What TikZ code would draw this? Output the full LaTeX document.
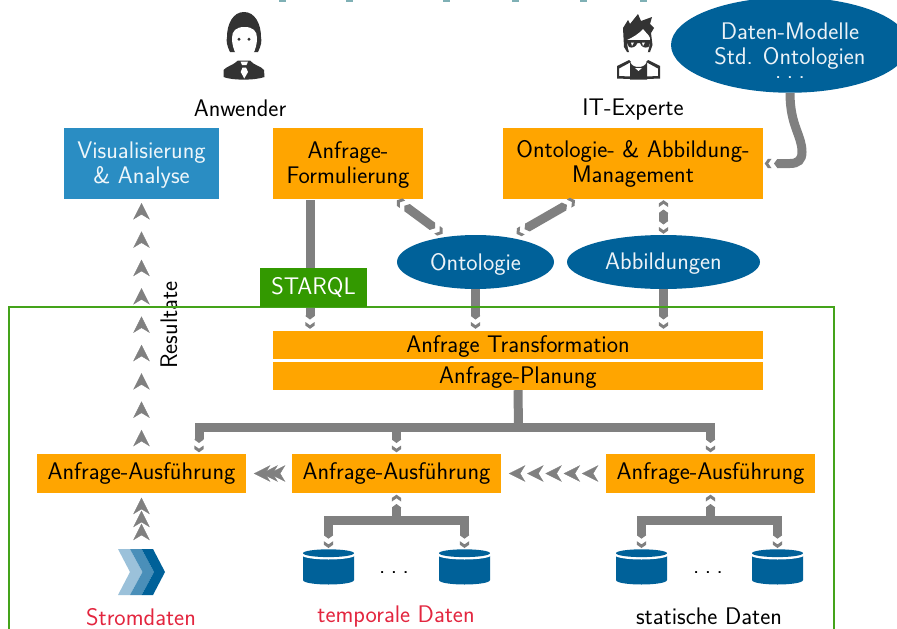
\documentclass[tikz,border=0pt]{standalone}
\usetikzlibrary{arrows.meta,shapes.geometric,decorations.markings}
\definecolor{boxorange}{HTML}{FFA500}
\definecolor{deepblue}{HTML}{006199}
\definecolor{visblue}{HTML}{2A8DC3}
\definecolor{midblue}{HTML}{4A8FB9}
\definecolor{paleblue}{HTML}{9BC1DA}
\definecolor{bargray}{HTML}{808080}
\definecolor{framegreen}{HTML}{339900}
\definecolor{lineg}{HTML}{44A31A}
\definecolor{labelred}{HTML}{E3263F}
\definecolor{icondark}{HTML}{333333}
\definecolor{titleteal}{HTML}{7FB0B5}
\newcommand\spreaddots{.\kern 5.5pt.\kern 5.5pt.}
\newcommand\toprule[1]{\rule{0pt}{#1}}
\pgfdeclarearrow{
  name=BarTip,
  setup code={
    \pgfarrowssettipend{0pt}
    \pgfarrowssetlineend{-13pt}
    \pgfarrowssetvisualbackend{-13.4pt}
    \pgfarrowssetbackend{-13.4pt}
    \pgfarrowshullpoint{0pt}{0pt}
    \pgfarrowsupperhullpoint{-13.4pt}{4.5pt}
  },
  drawing code={
    \pgfsetfillcolor{bargray}
    \pgfpathmoveto{\pgfpoint{0pt}{0pt}}
    \pgfpathlineto{\pgfpoint{-3.2pt}{4.6pt}}
    \pgfpathlineto{\pgfpoint{-6.8pt}{4.6pt}}
    \pgfpathlineto{\pgfpoint{-3.6pt}{0pt}}
    \pgfpathlineto{\pgfpoint{-6.8pt}{-4.6pt}}
    \pgfpathlineto{\pgfpoint{-3.2pt}{-4.6pt}}
    \pgfpathclose
    \pgfpathmoveto{\pgfpoint{-9.3pt}{0pt}}
    \pgfpathlineto{\pgfpoint{-12.6pt}{4.5pt}}
    \pgfpathlineto{\pgfpoint{-13.4pt}{4.5pt}}
    \pgfpathlineto{\pgfpoint{-13.4pt}{-4.5pt}}
    \pgfpathlineto{\pgfpoint{-12.6pt}{-4.5pt}}
    \pgfpathclose
    \pgfusepathqfill
  }
}
\tikzset{
  txt/.style={font=\sffamily\fontsize{24}{25}\selectfont,align=center,inner sep=0pt},
  obox/.style={txt,fill=boxorange,text=black},
  ubox/.style={txt,fill=visblue,text=white!92!visblue},
  gbox/.style={txt,fill=framegreen,text=white},
  oval/.style={txt,ellipse,fill=deepblue,text=white!92!deepblue},
  bar/.style={draw=bargray,line width=9pt},
  chv/.tip={Stealth[length=16.5pt,width=16.5pt,inset=5pt,color=bargray]},
  chain/.style={postaction={decorate},decoration={markings,mark=#1 with {\arrow{chv}}}},
  pics/dbicon/.style={code={
    \fill[deepblue] (-25.5,6) -- (-25.5,31) .. controls (-25.5,34) and (-12,35.5) .. (0,35.5)
      .. controls (12,35.5) and (25.5,34) .. (25.5,31) -- (25.5,6) -- cycle;
    \fill[white] (0,6.1) ellipse[x radius=26.5,y radius=4.4];
    \fill[deepblue] (0,4.2) ellipse[x radius=25.5,y radius=3.9];
  }},
}
\begin{document}
\begin{tikzpicture}[x=1pt,y=-1pt]
\clip (0,0) rectangle (897,629);
\fill[white] (0,0) rectangle (897,629);
% cropped remains at the top edge
\foreach \xa in {279,346,443,512,580,640}
  \fill[titleteal] (\xa,0) rectangle (\xa+7,1.6);

% boxes
\node[ubox,minimum width=155pt,minimum height=71pt] (vis) at (141.5,163.5) {\toprule{20pt}Visualisierung\\\& Analyse};
\node[obox,minimum width=150pt,minimum height=71pt] (form) at (348,163.5) {\toprule{20pt}Anfrage-\\Formulierung};
\node[obox,minimum width=260pt,minimum height=71pt] (mgmt) at (633,163.5) {Ontologie- \& Abbildung-\\Management};
\node[oval,minimum width=157pt,minimum height=54pt] (onto) at (475.5,262) {\toprule{21pt}Ontologie};
\node[oval,minimum width=193pt,minimum height=54pt] (abb) at (663.5,262) {\toprule{20pt}Abbildungen};
\node[oval,minimum width=238pt,minimum height=94pt] (dm) at (790,45) {\toprule{28.5pt}Daten-Modelle\\Std. Ontologien\\[-11pt]\spreaddots};
\node[obox,minimum width=490pt,minimum height=28pt] (trans) at (518,345) {\toprule{20pt}Anfrage Transformation};
\node[obox,minimum width=490pt,minimum height=28pt] (plan) at (518,376) {\toprule{20pt}Anfrage-Planung};
\node[obox,minimum width=209pt,minimum height=39pt] (a1) at (141.5,473.5) {Anfrage-Ausführung};
\node[obox,minimum width=209pt,minimum height=39pt] (a2) at (396.5,473.5) {Anfrage-Ausführung};
\node[obox,minimum width=209pt,minimum height=39pt] (a3) at (710.5,473.5) {Anfrage-Ausführung};

% labels
\node[txt,text=black] (anw) at (240,108.5) {Anwender};
\node[txt,text=black] (itx) at (633,110) {IT-Experte};
\node[txt,text=labelred] (ls) at (141,617) {Stromdaten};
\node[txt,text=labelred] (lt) at (396,616.5) {temporale Daten};
\node[txt,text=black] (lst) at (709,616) {statische Daten};
\node[txt,text=black] (dots1) at (394,573) {\spreaddots};
\node[txt,text=black] (dots2) at (708,573) {\spreaddots};
\node[txt,text=black,rotate=90] (res) at (169,325) {Resultate};

% databases
\coordinate (d1) at (328.5,549);
\coordinate (d2) at (464.5,549);
\coordinate (d3) at (641.5,549);
\coordinate (d4) at (777.5,549);
\foreach \dn in {d1,d2,d3,d4} \pic at (\dn) {dbicon};

% stream icon
\coordinate (strom) at (141.5,549);
\fill[paleblue] (118,549) -- (130,549) -- (142.5,572) -- (130,595) -- (118,595) -- (130,572) -- cycle;
\fill[midblue] (130,549) -- (141.7,549) -- (154,572) -- (141.7,595) -- (130,595) -- (142.5,572) -- cycle;
\fill[deepblue] (141.7,549) -- (153,549) -- (165,572) -- (153,595) -- (141.7,595) -- (154,572) -- cycle;

% bars
\coordinate (bus) at (518.5,427.5);
\coordinate (b2) at (396.5,520.5);
\coordinate (b3) at (710.5,520.5);
\draw[bar,-BarTip] ([xshift=-38pt,yshift=-1pt]form.south) -- ([xshift=-208pt,yshift=2pt]trans.north);
\draw[bar,-BarTip] (onto.south) -- ([xshift=-42.5pt,yshift=2pt]trans.north);
\draw[bar,-BarTip] (abb.south) -- ([xshift=145.5pt,yshift=2pt]trans.north);
\draw[bar,BarTip-BarTip] ([xshift=49pt,yshift=-1pt]form.south) -- ([xshift=-33pt,yshift=1pt]onto.north);
\draw[bar,BarTip-BarTip] ([xshift=-58pt,yshift=-1pt]mgmt.south) -- ([xshift=41pt,yshift=1pt]onto.north);
\draw[bar,BarTip-BarTip] ([xshift=30.5pt,yshift=-1pt]mgmt.south) -- ([yshift=1pt]abb.north);
\draw[bar,-BarTip] (dm.south) .. controls +(0,33) and (802,135) .. (802,152)
  .. controls (802,160) and (798,163.5) .. (790,163.5) -- ([xshift=1.5pt]mgmt.east);
\draw[bar] (plan.south) -- (bus);
\draw[bar,BarTip-BarTip] ([xshift=57.5pt,yshift=1.5pt]a1.north) |- (bus) -| ([yshift=1.5pt]a3.north);
\draw[bar,-BarTip] (bus -| a2.north) -- ([yshift=1.5pt]a2.north);
\draw[bar,BarTip-BarTip] ([yshift=1pt]d1) |- (b2) -| ([yshift=1pt]d2);
\draw[bar,-BarTip] (b2) -- ([yshift=-1.5pt]a2.south);
\draw[bar,BarTip-BarTip] ([yshift=1pt]d3) |- (b3) -| ([yshift=1pt]d4);
\draw[bar,-BarTip] (b3) -- ([yshift=-1.5pt]a3.south);

% chevron chains
\path[chain=between positions 24pt and 252pt step 28.35pt] (a1.north) -- (vis.south);
\path[chain=between positions 25.3pt and 52pt step 13pt] (strom) -- (a1.south);
\path[chain=between positions 23pt and 39pt step 7.5pt] (a2.west) -- (a1.east);
\path[chain=between positions 24pt and 98pt step 18.25pt] (a3.west) -- (a2.east);

% frame
\draw[lineg,line width=2.3pt] (9,307) rectangle (834,660);
\node[gbox,minimum width=107pt,minimum height=39pt] (starql) at (313.5,287) {STARQL};

% user icon
\fill[icondark] (244,12) .. controls (233,12) and (227,24) .. (227,37) .. controls (226,41) and (227,46) .. (230,52)
  -- (258,52) .. controls (261,46) and (262,41) .. (261,37) .. controls (261,24) and (255,12) .. (244,12) -- cycle;
\fill[white] (232,38) .. controls (232,31) and (236,27) .. (244.5,27) .. controls (253,27) and (257,31) .. (257,38)
  .. controls (257,50) and (251,60) .. (244.5,60) .. controls (238,60) and (232,50) .. (232,38) -- cycle;
\fill[icondark] (239,39.3) circle[radius=1.6] (249,39.3) circle[radius=1.6];
\fill[icondark] (223.5,70) .. controls (227,66) and (233,65.5) .. (238,60.5) -- (250,60.5)
  .. controls (254,65.5) and (261,66) .. (264,70) -- (264.5,77) .. controls (255,80.5) and (232,80.5) .. (223.5,77) -- cycle;
\fill[white] (240.5,61.5) -- (248,61.5) -- (246.5,65) -- (242,65) -- cycle;
\fill[white] (242.5,67.5) -- (246,67.5) -- (248,72) -- (244.3,78.5) -- (240.7,72) -- cycle;

% expert icon
\fill[icondark] (623,28) -- (628,20) -- (630,24) -- (638,14) -- (641,21) -- (652,17) -- (650,24) -- (654,28) -- (651,33)
  -- (652.5,45) -- (650,52) -- (627,52) -- (624,47) -- cycle;
\fill[white] (627,40) .. controls (632,38) and (640,33) .. (643,29) .. controls (646,33) and (649,35) .. (650,38)
  .. controls (650,52) and (644,62) .. (638.5,62) .. controls (633,62) and (627,52) .. (627,40) -- cycle;
\fill[icondark] (625.5,40) -- (651,40) -- (650,43) -- (648.5,47) .. controls (645,48.5) and (641,47) .. (640,43)
  -- (637.5,43) .. controls (636,47) and (632,48.5) .. (629,47) -- cycle;
\fill[white] (631,42.5) -- (634,42.5) -- (632,46) -- cycle (642,42.5) -- (645,42.5) -- (643,46) -- cycle;
\fill[icondark] (617,66) -- (629,60) -- (631,62) -- (619,68.5) -- (619,76) -- (630,76.5) -- (630,79) -- (617,78.5) -- cycle;
\fill[icondark] (660,66) -- (648,60) -- (646,62) -- (658,68.5) -- (658,76) -- (647,76.5) -- (647,79) -- (660,78.5) -- cycle;
\fill[icondark] (630,62) .. controls (632,66) and (635,67) .. (638.5,67) .. controls (642,67) and (645,66) .. (647,62)
  -- (647,79.5) -- (630,79.5) -- cycle;
\fill[white] (635,68) -- (642,68) -- (638.5,71) -- cycle;
\end{tikzpicture}
\end{document}
